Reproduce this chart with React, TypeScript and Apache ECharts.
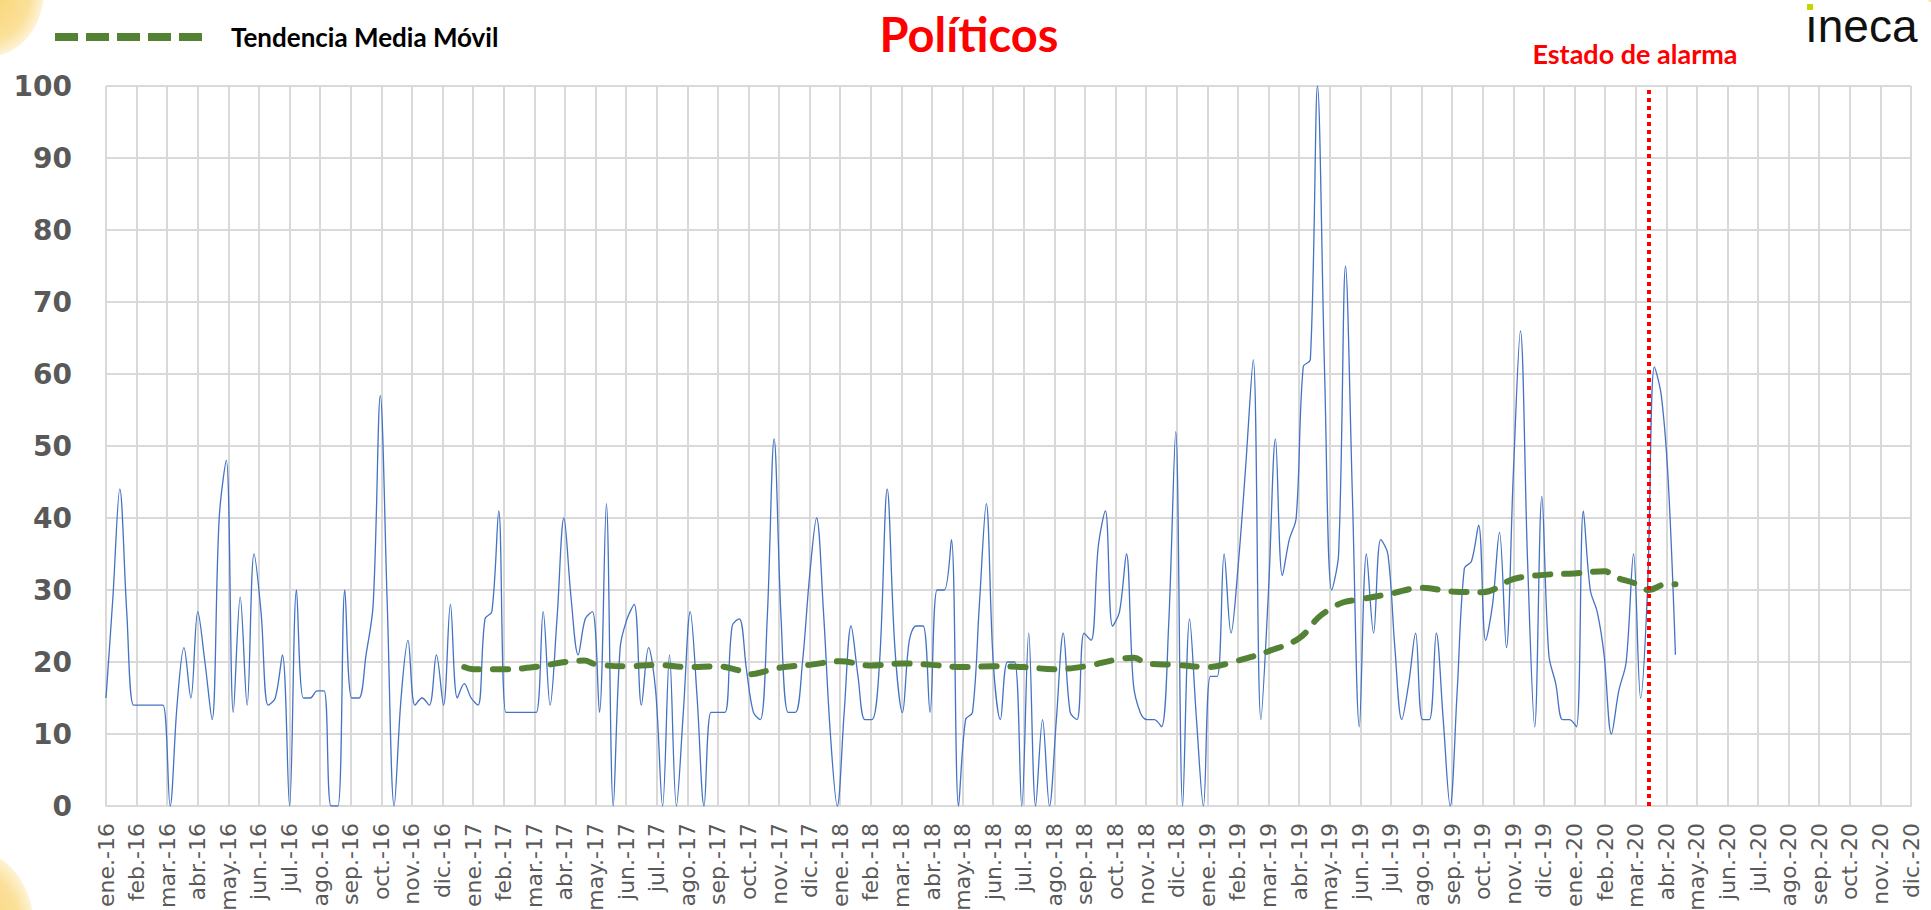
import React, { useEffect, useRef } from "react";
import * as echarts from "echarts";

// ---- Data -------------------------------------------------------------
// Weekly values (Fridays), first week = 2016-01-01
const startDate = "2016-01-01";

const weekly2016 = [
  15, 29, 44, 27, 14, 14, 14, 14, 14, 0, 14, 22, 15, 27, 20, 12, 40, 48, 13, 29, 14, 35, 27, 14, 15, 21,
  0, 30, 15, 15, 16, 16, 0, 0, 30, 15, 15, 21, 28, 57, 28, 0, 15, 23, 14, 15, 14, 21, 14, 28, 15, 17, 15,
];
const weekly2017 = [
  14, 26, 27, 41, 13, 13, 13, 13, 13, 27, 14, 26, 40, 29, 21, 26, 27, 13, 42, 0, 22, 26, 28, 14, 22, 16,
  0, 21, 0, 13, 27, 15, 0, 13, 13, 13, 25, 26, 19, 13, 12, 26, 51, 26, 13, 13, 20, 32, 40, 27, 10, 0,
];
const weekly2018 = [
  13, 25, 18, 12, 12, 20, 44, 22, 13, 23, 25, 25, 13, 30, 30, 37, 0, 12, 13, 28, 42, 20, 12, 20, 20, 0,
  24, 0, 12, 0, 12, 24, 13, 12, 24, 23, 36, 41, 25, 27, 35, 17, 13, 12, 12, 11, 25, 52, 0, 26, 12, 0,
];
const weekly2019 = [
  18, 18, 35, 24, 33, 47, 62, 12, 30, 51, 32, 37, 40, 61, 62, 100, 60, 30, 35, 75, 43, 11, 35, 24, 37, 35,
  22, 12, 17, 24, 12, 12, 24, 12, 0, 16, 33, 34, 39, 23, 28, 38, 22, 46, 66, 34, 11, 43, 21, 17, 12, 12,
];
const weekly2020 = [11, 41, 30, 27, 21, 10, 16, 20, 35, 15, 30, 61, 57, 45, 21];

// Moving-average trend, read at these dates
const maDates = [
  "2016-12-23", "2017-01-01", "2017-02-01", "2017-03-01", "2017-04-01", "2017-04-20", "2017-05-01",
  "2017-06-01", "2017-07-01", "2017-08-01", "2017-09-01", "2017-09-20", "2017-10-01", "2017-11-01",
  "2017-12-01", "2018-01-01", "2018-02-01", "2018-03-01", "2018-04-01", "2018-05-01", "2018-06-01",
  "2018-07-01", "2018-08-01", "2018-09-01", "2018-10-01", "2018-10-20", "2018-11-01", "2018-12-01",
  "2019-01-01", "2019-02-01", "2019-03-01", "2019-04-01", "2019-04-20", "2019-05-01", "2019-05-15",
  "2019-06-01", "2019-07-01", "2019-08-01", "2019-09-01", "2019-10-01", "2019-11-01", "2019-12-01",
  "2020-01-01", "2020-02-01", "2020-02-10", "2020-03-01", "2020-03-14", "2020-04-01", "2020-04-10",
];
const maValues = [
  19.3, 19.0, 19.0, 19.3, 20.0, 20.2, 19.7,
  19.4, 19.6, 19.3, 19.4, 18.9, 18.3, 19.2,
  19.6, 20.1, 19.5, 19.8, 19.6, 19.3, 19.4,
  19.3, 19.0, 19.4, 20.3, 20.6, 19.8, 19.6,
  19.3, 20.2, 21.5, 23.3, 26.2, 27.3, 28.3,
  28.7, 29.5, 30.3, 29.8, 29.7, 31.5, 32.1,
  32.3, 32.6, 31.8, 30.9, 30.0, 30.8, 30.8,
];

const alarmDate = "2020-03-14";

const monthLabels = [
  "ene.-16", "feb.-16", "mar.-16", "abr.-16", "may.-16", "jun.-16", "jul.-16", "ago.-16", "sep.-16", "oct.-16", "nov.-16", "dic.-16",
  "ene.-17", "feb.-17", "mar.-17", "abr.-17", "may.-17", "jun.-17", "jul.-17", "ago.-17", "sep.-17", "oct.-17", "nov.-17", "dic.-17",
  "ene.-18", "feb.-18", "mar.-18", "abr.-18", "may.-18", "jun.-18", "jul.-18", "ago.-18", "sep.-18", "oct.-18", "nov.-18", "dic.-18",
  "ene.-19", "feb.-19", "mar.-19", "abr.-19", "may.-19", "jun.-19", "jul.-19", "ago.-19", "sep.-19", "oct.-19", "nov.-19", "dic.-19",
  "ene.-20", "feb.-20", "mar.-20", "abr.-20", "may.-20", "jun.-20", "jul.-20", "ago.-20", "sep.-20", "oct.-20", "nov.-20", "dic.-20",
];

const yTicks = { min: 0, max: 100, interval: 10 };

// ---- helpers ----------------------------------------------------------
function parseUTC(s: string): Date {
  const [y, m, d] = s.split("-").map(Number);
  return new Date(Date.UTC(y, m - 1, d));
}
// position of a date on the month axis (0 = ene.-16)
function monthPos(d: Date): number {
  const y = d.getUTCFullYear();
  const m = d.getUTCMonth();
  const day = d.getUTCDate();
  const dim = new Date(Date.UTC(y, m + 1, 0)).getUTCDate();
  return (y - 2016) * 12 + m + (day - 1) / dim;
}

export default function App() {
  const ref = useRef<HTMLDivElement>(null);

  useEffect(() => {
    if (!ref.current) return;
    const chart = echarts.init(ref.current, null, { renderer: "svg" });

    const weekly = [...weekly2016, ...weekly2017, ...weekly2018, ...weekly2019, ...weekly2020];
    const start = parseUTC(startDate);
    const lineData = weekly.map((v, i) => {
      const d = new Date(start.getTime() + i * 7 * 86400000);
      return [monthPos(d), v];
    });
    const maData = maDates.map((s, i) => [monthPos(parseUTC(s)), maValues[i]]);
    const alarmPos = monthPos(parseUTC(alarmDate));

    const grey = "#D9D9D9";
    const labelGrey = "#595959";

    const cornerFill = () =>
      new echarts.graphic.RadialGradient(0.5, 0.5, 0.5, [
        { offset: 0, color: "#F8D46E" },
        { offset: 0.75, color: "#FBE09A" },
        { offset: 1, color: "#FEF3D6" },
      ]);

    const option: any = {
      animation: false,
      backgroundColor: "#FFFFFF",
      grid: {
        left: 106,
        right: 20,
        top: 86,
        bottom: 104,
        containLabel: false,
        outerBoundsMode: "none",
      },
      xAxis: {
        type: "value",
        min: 0,
        max: monthLabels.length - 1,
        interval: 1,
        axisLine: { show: true, lineStyle: { color: grey, width: 2 } },
        axisTick: { show: false },
        splitLine: { show: true, lineStyle: { color: grey, width: 2 } },
        axisLabel: {
          rotate: 90,
          margin: 17,
          fontSize: 22,
          color: labelGrey,
          fontFamily: "DejaVu Sans",
          formatter: (v: number) => monthLabels[Math.round(v)] ?? "",
        },
      },
      yAxis: {
        type: "value",
        min: yTicks.min,
        max: yTicks.max,
        interval: yTicks.interval,
        axisLine: { show: false },
        axisTick: { show: false },
        splitLine: { show: true, lineStyle: { color: grey, width: 2 } },
        axisLabel: {
          margin: 34,
          fontSize: 28,
          fontWeight: "bold",
          color: labelGrey,
          fontFamily: "DejaVu Sans",
        },
      },
      series: [
        {
          name: "Políticos",
          type: "line",
          data: lineData,
          smooth: 0.35,
          showSymbol: false,
          z: 2,
          lineStyle: { color: "#4472C4", width: 1.3 },
        },
        {
          name: "Tendencia Media Móvil",
          type: "line",
          data: maData,
          smooth: 0.4,
          showSymbol: false,
          z: 3,
          lineStyle: { color: "#548235", width: 6, type: [15, 14], cap: "round" },
          markLine: {
            silent: true,
            symbol: ["none", "none"],
            label: { show: false },
            lineStyle: { color: "#FF0000", width: 4, type: [4, 4], cap: "butt" },
            data: [{ xAxis: alarmPos }],
          },
        },
      ],
      graphic: [
        {
          type: "ellipse",
          z: -10,
          shape: { cx: -10, cy: -10, rx: 54, ry: 66 },
          style: { fill: cornerFill() },
        },
        {
          type: "ellipse",
          z: -10,
          shape: { cx: -20, cy: 935, rx: 55, ry: 82 },
          style: { fill: cornerFill() },
        },
        {
          type: "ellipse",
          z: -10,
          shape: { cx: 1935, cy: -4, rx: 9, ry: 7 },
          style: { fill: "#FBE3A6" },
        },
        {
          type: "line",
          shape: { x1: 55, y1: 37, x2: 209, y2: 37 },
          style: { stroke: "#548235", lineWidth: 8, lineDash: [23, 8] },
        },
        {
          type: "text",
          style: {
            text: "Tendencia Media Móvil",
            x: 231,
            y: 37,
            textAlign: "left",
            textVerticalAlign: "middle",
            fill: "#000000",
            fontSize: 26,
            fontWeight: "bold",
            fontFamily: "Lato",
          },
        },
        {
          type: "text",
          style: {
            text: "Políticos",
            x: 969,
            y: 34,
            textAlign: "center",
            textVerticalAlign: "middle",
            fill: "#FF0000",
            fontSize: 47,
            fontWeight: "bold",
            fontFamily: "Lato",
          },
        },
        {
          type: "text",
          style: {
            text: "Estado de alarma",
            x: 1635,
            y: 53,
            textAlign: "center",
            textVerticalAlign: "middle",
            fill: "#FF0000",
            fontSize: 27,
            fontWeight: "bold",
            fontFamily: "Lato",
          },
        },
        {
          type: "text",
          style: {
            text: "ıneca",
            x: 1805,
            y: 26,
            textAlign: "left",
            textVerticalAlign: "middle",
            fill: "#111111",
            fontSize: 46,
            fontFamily: "Liberation Sans",
          },
        },
        {
          type: "rect",
          shape: { x: 1807, y: 4, width: 6, height: 6 },
          style: { fill: "#C8D400" },
        },
      ],
    };

    chart.setOption(option);
    return () => chart.dispose();
  }, []);

  return (
    <div
      ref={ref}
      style={{ position: "absolute", left: 0, top: 0, width: 1931, height: 910, background: "#fff" }}
    />
  );
}
